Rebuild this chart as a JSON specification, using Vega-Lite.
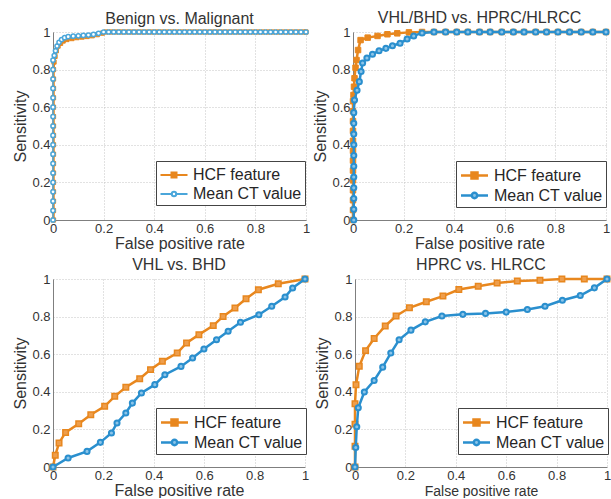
{
  "$schema": "https://vega.github.io/schema/vega-lite/v6.json",
  "padding": {"left": 12, "top": 10, "right": 0, "bottom": 0},
  "background": "white",
  "config": {
    "view": {"stroke": null},
    "font": "Liberation Sans",
    "title": {"font": "Liberation Sans", "fontSize": 16, "fontWeight": "normal", "color": "#333", "offset": -1},
    "axis": {"labelFont": "Liberation Sans", "titleFont": "Liberation Sans", "labelFontSize": 13, "titleFontSize": 16, "titleFontWeight": "normal", "labelColor": "#333", "titleColor": "#333", "gridColor": "#c4c4c4", "gridDash": [1, 2], "domainColor": "#7f7f7f", "ticks": false, "labelFlush": false, "labelPadding": 3, "titlePadding": 3},
    "axisX": {"labelPadding": 2, "titlePadding": 0},
    "legend": {"labelFont": "Liberation Sans", "labelFontSize": 16, "labelColor": "#262626", "padding": 3, "rowPadding": 0, "strokeColor": "#444", "fillColor": "#ffffff", "symbolSize": 400, "symbolOffset": 4, "labelOffset": 8, "orient": "none", "legendX": 103, "legendY": 129, "direction": "vertical"}
  },
  "resolve": {"scale": {"color": "independent"}, "legend": {"color": "independent"}},
  "spacing": 6,
  "vconcat": [
    {
      "spacing": 0,
      "resolve": {"scale": {"color": "independent"}, "legend": {"color": "independent"}},
      "hconcat": [
        {
          "width": 253, "height": 188,
          "title": "Benign vs. Malignant",
          "data": {"values": [
            {"s":"HCF feature","x":0.002,"y":0},{"s":"HCF feature","x":0.002,"y":0.05},{"s":"HCF feature","x":0.002,"y":0.1},{"s":"HCF feature","x":0.002,"y":0.15},{"s":"HCF feature","x":0.002,"y":0.2},{"s":"HCF feature","x":0.002,"y":0.25},{"s":"HCF feature","x":0.002,"y":0.3},{"s":"HCF feature","x":0.002,"y":0.35},{"s":"HCF feature","x":0.002,"y":0.4},{"s":"HCF feature","x":0.002,"y":0.45},{"s":"HCF feature","x":0.002,"y":0.5},{"s":"HCF feature","x":0.002,"y":0.55},{"s":"HCF feature","x":0.002,"y":0.6},{"s":"HCF feature","x":0.002,"y":0.65},{"s":"HCF feature","x":0.002,"y":0.7},{"s":"HCF feature","x":0.002,"y":0.75},{"s":"HCF feature","x":0.002,"y":0.8},
            {"s":"HCF feature","x":0.004,"y":0.84},{"s":"HCF feature","x":0.008,"y":0.87},{"s":"HCF feature","x":0.013,"y":0.9},{"s":"HCF feature","x":0.02,"y":0.925},{"s":"HCF feature","x":0.03,"y":0.94},{"s":"HCF feature","x":0.04,"y":0.952},{"s":"HCF feature","x":0.055,"y":0.96},{"s":"HCF feature","x":0.075,"y":0.965},{"s":"HCF feature","x":0.095,"y":0.97},{"s":"HCF feature","x":0.115,"y":0.973},{"s":"HCF feature","x":0.135,"y":0.976},{"s":"HCF feature","x":0.155,"y":0.98},{"s":"HCF feature","x":0.175,"y":0.986},{"s":"HCF feature","x":0.195,"y":0.994},{"s":"HCF feature","x":0.21,"y":1},
            {"s":"HCF feature","x":0.23,"y":1},{"s":"HCF feature","x":0.25,"y":1},{"s":"HCF feature","x":0.27,"y":1},{"s":"HCF feature","x":0.29,"y":1},{"s":"HCF feature","x":0.31,"y":1},{"s":"HCF feature","x":0.33,"y":1},{"s":"HCF feature","x":0.35,"y":1},{"s":"HCF feature","x":0.37,"y":1},{"s":"HCF feature","x":0.39,"y":1},{"s":"HCF feature","x":0.41,"y":1},{"s":"HCF feature","x":0.43,"y":1},{"s":"HCF feature","x":0.45,"y":1},{"s":"HCF feature","x":0.47,"y":1},{"s":"HCF feature","x":0.49,"y":1},{"s":"HCF feature","x":0.51,"y":1},{"s":"HCF feature","x":0.53,"y":1},{"s":"HCF feature","x":0.55,"y":1},{"s":"HCF feature","x":0.57,"y":1},{"s":"HCF feature","x":0.59,"y":1},{"s":"HCF feature","x":0.61,"y":1},{"s":"HCF feature","x":0.63,"y":1},{"s":"HCF feature","x":0.65,"y":1},{"s":"HCF feature","x":0.67,"y":1},{"s":"HCF feature","x":0.69,"y":1},{"s":"HCF feature","x":0.71,"y":1},{"s":"HCF feature","x":0.73,"y":1},{"s":"HCF feature","x":0.75,"y":1},{"s":"HCF feature","x":0.77,"y":1},{"s":"HCF feature","x":0.79,"y":1},{"s":"HCF feature","x":0.81,"y":1},{"s":"HCF feature","x":0.83,"y":1},{"s":"HCF feature","x":0.85,"y":1},{"s":"HCF feature","x":0.87,"y":1},{"s":"HCF feature","x":0.89,"y":1},{"s":"HCF feature","x":0.91,"y":1},{"s":"HCF feature","x":0.93,"y":1},{"s":"HCF feature","x":0.95,"y":1},{"s":"HCF feature","x":0.97,"y":1},{"s":"HCF feature","x":0.99,"y":1},{"s":"HCF feature","x":1,"y":1},
            {"s":"Mean CT value","x":0,"y":0},{"s":"Mean CT value","x":0,"y":0.05},{"s":"Mean CT value","x":0,"y":0.1},{"s":"Mean CT value","x":0,"y":0.15},{"s":"Mean CT value","x":0,"y":0.2},{"s":"Mean CT value","x":0,"y":0.25},{"s":"Mean CT value","x":0,"y":0.3},{"s":"Mean CT value","x":0,"y":0.35},{"s":"Mean CT value","x":0,"y":0.4},{"s":"Mean CT value","x":0,"y":0.45},{"s":"Mean CT value","x":0,"y":0.5},{"s":"Mean CT value","x":0,"y":0.55},{"s":"Mean CT value","x":0,"y":0.6},{"s":"Mean CT value","x":0,"y":0.65},{"s":"Mean CT value","x":0,"y":0.7},{"s":"Mean CT value","x":0,"y":0.75},{"s":"Mean CT value","x":0,"y":0.8},{"s":"Mean CT value","x":0,"y":0.85},
            {"s":"Mean CT value","x":0.005,"y":0.875},{"s":"Mean CT value","x":0.01,"y":0.9},{"s":"Mean CT value","x":0.016,"y":0.925},{"s":"Mean CT value","x":0.024,"y":0.945},{"s":"Mean CT value","x":0.034,"y":0.96},{"s":"Mean CT value","x":0.046,"y":0.97},{"s":"Mean CT value","x":0.06,"y":0.975},{"s":"Mean CT value","x":0.08,"y":0.978},{"s":"Mean CT value","x":0.1,"y":0.98},{"s":"Mean CT value","x":0.12,"y":0.982},{"s":"Mean CT value","x":0.14,"y":0.984},{"s":"Mean CT value","x":0.16,"y":0.987},{"s":"Mean CT value","x":0.18,"y":0.993},{"s":"Mean CT value","x":0.2,"y":1},
            {"s":"Mean CT value","x":0.22,"y":1},{"s":"Mean CT value","x":0.24,"y":1},{"s":"Mean CT value","x":0.26,"y":1},{"s":"Mean CT value","x":0.28,"y":1},{"s":"Mean CT value","x":0.3,"y":1},{"s":"Mean CT value","x":0.32,"y":1},{"s":"Mean CT value","x":0.34,"y":1},{"s":"Mean CT value","x":0.36,"y":1},{"s":"Mean CT value","x":0.38,"y":1},{"s":"Mean CT value","x":0.4,"y":1},{"s":"Mean CT value","x":0.42,"y":1},{"s":"Mean CT value","x":0.44,"y":1},{"s":"Mean CT value","x":0.46,"y":1},{"s":"Mean CT value","x":0.48,"y":1},{"s":"Mean CT value","x":0.5,"y":1},{"s":"Mean CT value","x":0.52,"y":1},{"s":"Mean CT value","x":0.54,"y":1},{"s":"Mean CT value","x":0.56,"y":1},{"s":"Mean CT value","x":0.58,"y":1},{"s":"Mean CT value","x":0.6,"y":1},{"s":"Mean CT value","x":0.62,"y":1},{"s":"Mean CT value","x":0.64,"y":1},{"s":"Mean CT value","x":0.66,"y":1},{"s":"Mean CT value","x":0.68,"y":1},{"s":"Mean CT value","x":0.7,"y":1},{"s":"Mean CT value","x":0.72,"y":1},{"s":"Mean CT value","x":0.74,"y":1},{"s":"Mean CT value","x":0.76,"y":1},{"s":"Mean CT value","x":0.78,"y":1},{"s":"Mean CT value","x":0.8,"y":1},{"s":"Mean CT value","x":0.82,"y":1},{"s":"Mean CT value","x":0.84,"y":1},{"s":"Mean CT value","x":0.86,"y":1},{"s":"Mean CT value","x":0.88,"y":1},{"s":"Mean CT value","x":0.9,"y":1},{"s":"Mean CT value","x":0.92,"y":1},{"s":"Mean CT value","x":0.94,"y":1},{"s":"Mean CT value","x":0.96,"y":1},{"s":"Mean CT value","x":0.98,"y":1},{"s":"Mean CT value","x":1,"y":1}
          ]},
          "encoding": {
            "x": {"field": "x", "type": "quantitative", "scale": {"domain": [0, 1]}, "axis": {"title": "False positive rate", "values": [0, 0.2, 0.4, 0.6, 0.8, 1], "format": "~g"}},
            "y": {"field": "y", "type": "quantitative", "scale": {"domain": [0, 1]}, "axis": {"title": "Sensitivity", "values": [0, 0.2, 0.4, 0.6, 0.8, 1], "format": "~g"}}
          },
          "layer": [
            {"transform": [{"filter": "datum.s === 'HCF feature'"}], "mark": {"type": "line", "strokeWidth": 2.5},
             "encoding": {"color": {"field": "s", "type": "nominal", "scale": {"domain": ["HCF feature", "Mean CT value"], "range": ["#E8871E", "#4AA6DA"]},
               "legend": {"title": null, "encode": {"symbols": {"update": {
                 "shape": {"signal": "datum.value === 'HCF feature' ? 'M-1.35,0H1.35M-0.25,-0.25H0.25V0.25H-0.25Z' : 'M-1.35,0H-0.22M0.22,0H1.35M0.22,0A0.22,0.22,0,1,1,-0.22,0A0.22,0.22,0,1,1,0.22,0Z'"},
                 "fill": {"signal": "datum.value === 'HCF feature' ? '#E8871E' : '#ffffff'"},
                 "stroke": {"signal": "datum.value === 'HCF feature' ? '#E8871E' : '#4AA6DA'"},
                 "strokeWidth": {"value": 2}, "opacity": {"value": 1}}}}}}}},
            {"transform": [{"filter": "datum.s === 'HCF feature'"}], "mark": {"type": "point", "shape": "square", "filled": true, "fill": "#E8871E", "stroke": "#E8871E", "strokeWidth": 1, "size": 18, "opacity": 1}},
            {"transform": [{"filter": "datum.s === 'Mean CT value'"}], "mark": {"type": "line", "strokeWidth": 1.5}, "encoding": {"color": {"field": "s", "type": "nominal"}}},
            {"transform": [{"filter": "datum.s === 'Mean CT value'"}], "mark": {"type": "point", "shape": "circle", "filled": true, "fill": "#ffffff", "stroke": "#4AA6DA", "strokeWidth": 1.5, "size": 18, "opacity": 1}}
          ]
        },
        {
          "width": 253, "height": 188,
          "title": "VHL/BHD vs. HPRC/HLRCC",
          "data": {"values": [
            {"s":"HCF feature","x":0,"y":0},{"s":"HCF feature","x":0,"y":0.053},{"s":"HCF feature","x":0,"y":0.105},{"s":"HCF feature","x":0,"y":0.158},{"s":"HCF feature","x":0,"y":0.211},{"s":"HCF feature","x":0,"y":0.263},{"s":"HCF feature","x":0,"y":0.316},{"s":"HCF feature","x":0,"y":0.368},{"s":"HCF feature","x":0,"y":0.421},{"s":"HCF feature","x":0,"y":0.474},{"s":"HCF feature","x":0,"y":0.526},{"s":"HCF feature","x":0,"y":0.579},{"s":"HCF feature","x":0,"y":0.632},
            {"s":"HCF feature","x":0.002,"y":0.665},{"s":"HCF feature","x":0.004,"y":0.709},{"s":"HCF feature","x":0.006,"y":0.754},{"s":"HCF feature","x":0.01,"y":0.81},{"s":"HCF feature","x":0.014,"y":0.851},{"s":"HCF feature","x":0.02,"y":0.904},{"s":"HCF feature","x":0.03,"y":0.957},{"s":"HCF feature","x":0.058,"y":0.97},{"s":"HCF feature","x":0.097,"y":0.979},{"s":"HCF feature","x":0.136,"y":0.988},{"s":"HCF feature","x":0.175,"y":0.993},{"s":"HCF feature","x":0.221,"y":0.998},{"s":"HCF feature","x":0.273,"y":1},
            {"s":"HCF feature","x":0.32,"y":1},{"s":"HCF feature","x":0.366,"y":1},{"s":"HCF feature","x":0.41,"y":1},{"s":"HCF feature","x":0.454,"y":1},{"s":"HCF feature","x":0.5,"y":1},{"s":"HCF feature","x":0.542,"y":1},{"s":"HCF feature","x":0.588,"y":1},{"s":"HCF feature","x":0.634,"y":1},{"s":"HCF feature","x":0.676,"y":1},{"s":"HCF feature","x":0.722,"y":1},{"s":"HCF feature","x":0.765,"y":1},{"s":"HCF feature","x":0.81,"y":1},{"s":"HCF feature","x":0.856,"y":1},{"s":"HCF feature","x":0.902,"y":1},{"s":"HCF feature","x":0.948,"y":1},{"s":"HCF feature","x":1,"y":1},
            {"s":"Mean CT value","x":0.003,"y":0},{"s":"Mean CT value","x":0.003,"y":0.057},{"s":"Mean CT value","x":0.003,"y":0.114},{"s":"Mean CT value","x":0.003,"y":0.171},{"s":"Mean CT value","x":0.003,"y":0.229},{"s":"Mean CT value","x":0.003,"y":0.286},{"s":"Mean CT value","x":0.003,"y":0.343},{"s":"Mean CT value","x":0.003,"y":0.4},{"s":"Mean CT value","x":0.003,"y":0.457},{"s":"Mean CT value","x":0.003,"y":0.514},{"s":"Mean CT value","x":0.003,"y":0.571},{"s":"Mean CT value","x":0.006,"y":0.638},
            {"s":"Mean CT value","x":0.016,"y":0.69},{"s":"Mean CT value","x":0.025,"y":0.736},{"s":"Mean CT value","x":0.032,"y":0.79},{"s":"Mean CT value","x":0.038,"y":0.835},{"s":"Mean CT value","x":0.055,"y":0.862},{"s":"Mean CT value","x":0.077,"y":0.882},{"s":"Mean CT value","x":0.103,"y":0.9},{"s":"Mean CT value","x":0.13,"y":0.913},{"s":"Mean CT value","x":0.156,"y":0.927},{"s":"Mean CT value","x":0.186,"y":0.94},{"s":"Mean CT value","x":0.214,"y":0.963},{"s":"Mean CT value","x":0.24,"y":0.979},{"s":"Mean CT value","x":0.273,"y":0.995},
            {"s":"Mean CT value","x":0.32,"y":1},{"s":"Mean CT value","x":0.366,"y":1},{"s":"Mean CT value","x":0.41,"y":1},{"s":"Mean CT value","x":0.454,"y":1},{"s":"Mean CT value","x":0.5,"y":1},{"s":"Mean CT value","x":0.542,"y":1},{"s":"Mean CT value","x":0.588,"y":1},{"s":"Mean CT value","x":0.634,"y":1},{"s":"Mean CT value","x":0.676,"y":1},{"s":"Mean CT value","x":0.722,"y":1},{"s":"Mean CT value","x":0.765,"y":1},{"s":"Mean CT value","x":0.81,"y":1},{"s":"Mean CT value","x":0.856,"y":1},{"s":"Mean CT value","x":0.902,"y":1},{"s":"Mean CT value","x":0.948,"y":1},{"s":"Mean CT value","x":1,"y":1}
          ]},
          "encoding": {
            "x": {"field": "x", "type": "quantitative", "scale": {"domain": [0, 1]}, "axis": {"title": "False positive rate", "values": [0, 0.2, 0.4, 0.6, 0.8, 1], "format": "~g"}},
            "y": {"field": "y", "type": "quantitative", "scale": {"domain": [0, 1]}, "axis": {"title": "Sensitivity", "values": [0, 0.2, 0.4, 0.6, 0.8, 1], "format": "~g"}}
          },
          "layer": [
            {"transform": [{"filter": "datum.s === 'HCF feature'"}], "mark": {"type": "line", "strokeWidth": 2.5},
             "encoding": {"color": {"field": "s", "type": "nominal", "scale": {"domain": ["HCF feature", "Mean CT value"], "range": ["#E8871E", "#2A8FCE"]},
               "legend": {"title": null, "encode": {"symbols": {"update": {
                 "shape": {"signal": "datum.value === 'HCF feature' ? 'M-1.35,0H1.35M-0.3,-0.3H0.3V0.3H-0.3Z' : 'M-1.35,0H-0.27M0.27,0H1.35M0.27,0A0.27,0.27,0,1,1,-0.27,0A0.27,0.27,0,1,1,0.27,0Z'"},
                 "fill": {"signal": "datum.value === 'HCF feature' ? '#E8871E' : '#8CC4E8'"},
                 "stroke": {"signal": "datum.value === 'HCF feature' ? '#E8871E' : '#2A8FCE'"},
                 "strokeWidth": {"value": 2.5}, "opacity": {"value": 1}}}}}}}},
            {"transform": [{"filter": "datum.s === 'HCF feature'"}], "mark": {"type": "point", "shape": "square", "filled": true, "fill": "#E8871E", "stroke": "#E8871E", "strokeWidth": 1, "size": 30, "opacity": 1}},
            {"transform": [{"filter": "datum.s === 'Mean CT value'"}], "mark": {"type": "line", "strokeWidth": 2.5}, "encoding": {"color": {"field": "s", "type": "nominal"}}},
            {"transform": [{"filter": "datum.s === 'Mean CT value'"}], "mark": {"type": "point", "shape": "circle", "filled": true, "fill": "#8CC4E8", "stroke": "#2A8FCE", "strokeWidth": 2, "size": 26, "opacity": 1}}
          ]
        }
      ]
    },
    {
      "spacing": 2,
      "resolve": {"scale": {"color": "independent"}, "legend": {"color": "independent"}},
      "hconcat": [
        {
          "width": 252, "height": 188,
          "title": "VHL vs. BHD",
          "data": {"values": [
            {"s":"HCF feature","x":0,"y":0},{"s":"HCF feature","x":0.009,"y":0.062},{"s":"HCF feature","x":0.024,"y":0.128},{"s":"HCF feature","x":0.05,"y":0.184},{"s":"HCF feature","x":0.102,"y":0.23},{"s":"HCF feature","x":0.15,"y":0.278},{"s":"HCF feature","x":0.205,"y":0.323},{"s":"HCF feature","x":0.245,"y":0.376},{"s":"HCF feature","x":0.289,"y":0.424},{"s":"HCF feature","x":0.344,"y":0.47},{"s":"HCF feature","x":0.387,"y":0.518},{"s":"HCF feature","x":0.434,"y":0.562},{"s":"HCF feature","x":0.493,"y":0.606},{"s":"HCF feature","x":0.53,"y":0.66},{"s":"HCF feature","x":0.579,"y":0.704},{"s":"HCF feature","x":0.636,"y":0.752},{"s":"HCF feature","x":0.675,"y":0.801},{"s":"HCF feature","x":0.722,"y":0.846},{"s":"HCF feature","x":0.766,"y":0.895},{"s":"HCF feature","x":0.815,"y":0.943},{"s":"HCF feature","x":0.894,"y":0.975},{"s":"HCF feature","x":1,"y":1},
            {"s":"Mean CT value","x":0,"y":0},{"s":"Mean CT value","x":0.06,"y":0.048},{"s":"Mean CT value","x":0.135,"y":0.083},{"s":"Mean CT value","x":0.188,"y":0.131},{"s":"Mean CT value","x":0.232,"y":0.181},{"s":"Mean CT value","x":0.254,"y":0.234},{"s":"Mean CT value","x":0.289,"y":0.287},{"s":"Mean CT value","x":0.315,"y":0.34},{"s":"Mean CT value","x":0.351,"y":0.394},{"s":"Mean CT value","x":0.404,"y":0.438},{"s":"Mean CT value","x":0.444,"y":0.491},{"s":"Mean CT value","x":0.508,"y":0.535},{"s":"Mean CT value","x":0.554,"y":0.58},{"s":"Mean CT value","x":0.599,"y":0.628},{"s":"Mean CT value","x":0.649,"y":0.677},{"s":"Mean CT value","x":0.695,"y":0.722},{"s":"Mean CT value","x":0.744,"y":0.77},{"s":"Mean CT value","x":0.817,"y":0.81},{"s":"Mean CT value","x":0.868,"y":0.855},{"s":"Mean CT value","x":0.921,"y":0.904},{"s":"Mean CT value","x":0.951,"y":0.952},{"s":"Mean CT value","x":1,"y":1}
          ]},
          "encoding": {
            "x": {"field": "x", "type": "quantitative", "scale": {"domain": [0, 1]}, "axis": {"title": "False positive rate", "values": [0, 0.2, 0.4, 0.6, 0.8, 1], "format": "~g"}},
            "y": {"field": "y", "type": "quantitative", "scale": {"domain": [0, 1]}, "axis": {"title": "Sensitivity", "values": [0, 0.2, 0.4, 0.6, 0.8, 1], "format": "~g"}}
          },
          "layer": [
            {"transform": [{"filter": "datum.s === 'HCF feature'"}], "mark": {"type": "line", "strokeWidth": 2.5},
             "encoding": {"color": {"field": "s", "type": "nominal", "scale": {"domain": ["HCF feature", "Mean CT value"], "range": ["#E8871E", "#2A8FCE"]},
               "legend": {"title": null, "encode": {"symbols": {"update": {
                 "shape": {"signal": "datum.value === 'HCF feature' ? 'M-1.35,0H1.35M-0.3,-0.3H0.3V0.3H-0.3Z' : 'M-1.35,0H-0.27M0.27,0H1.35M0.27,0A0.27,0.27,0,1,1,-0.27,0A0.27,0.27,0,1,1,0.27,0Z'"},
                 "fill": {"signal": "datum.value === 'HCF feature' ? '#E8871E' : '#8CC4E8'"},
                 "stroke": {"signal": "datum.value === 'HCF feature' ? '#E8871E' : '#2A8FCE'"},
                 "strokeWidth": {"value": 2.5}, "opacity": {"value": 1}}}}}}}},
            {"transform": [{"filter": "datum.s === 'HCF feature'"}], "mark": {"type": "point", "shape": "square", "filled": true, "fill": "#EE9E4C", "stroke": "#E8871E", "strokeWidth": 1.5, "size": 30, "opacity": 1}},
            {"transform": [{"filter": "datum.s === 'Mean CT value'"}], "mark": {"type": "line", "strokeWidth": 2.5}, "encoding": {"color": {"field": "s", "type": "nominal"}}},
            {"transform": [{"filter": "datum.s === 'Mean CT value'"}], "mark": {"type": "point", "shape": "circle", "filled": true, "fill": "#8CC4E8", "stroke": "#2A8FCE", "strokeWidth": 2, "size": 26, "opacity": 1}}
          ]
        },
        {
          "width": 252, "height": 188,
          "title": "HPRC vs. HLRCC",
          "data": {"values": [
            {"s":"HCF feature","x":0,"y":0},{"s":"HCF feature","x":0,"y":0.11},{"s":"HCF feature","x":0,"y":0.228},{"s":"HCF feature","x":0,"y":0.337},{"s":"HCF feature","x":0.004,"y":0.437},{"s":"HCF feature","x":0.017,"y":0.536},{"s":"HCF feature","x":0.042,"y":0.619},{"s":"HCF feature","x":0.076,"y":0.684},{"s":"HCF feature","x":0.12,"y":0.75},{"s":"HCF feature","x":0.163,"y":0.803},{"s":"HCF feature","x":0.216,"y":0.847},{"s":"HCF feature","x":0.283,"y":0.879},{"s":"HCF feature","x":0.349,"y":0.909},{"s":"HCF feature","x":0.412,"y":0.944},{"s":"HCF feature","x":0.489,"y":0.961},{"s":"HCF feature","x":0.564,"y":0.979},{"s":"HCF feature","x":0.644,"y":0.989},{"s":"HCF feature","x":0.734,"y":0.993},{"s":"HCF feature","x":0.821,"y":1},{"s":"HCF feature","x":0.91,"y":1},{"s":"HCF feature","x":1,"y":1},
            {"s":"Mean CT value","x":0,"y":0},{"s":"Mean CT value","x":0.003,"y":0.104},{"s":"Mean CT value","x":0.007,"y":0.214},{"s":"Mean CT value","x":0.013,"y":0.315},{"s":"Mean CT value","x":0.037,"y":0.399},{"s":"Mean CT value","x":0.076,"y":0.46},{"s":"Mean CT value","x":0.11,"y":0.531},{"s":"Mean CT value","x":0.142,"y":0.606},{"s":"Mean CT value","x":0.175,"y":0.677},{"s":"Mean CT value","x":0.222,"y":0.728},{"s":"Mean CT value","x":0.279,"y":0.772},{"s":"Mean CT value","x":0.345,"y":0.803},{"s":"Mean CT value","x":0.428,"y":0.812},{"s":"Mean CT value","x":0.518,"y":0.817},{"s":"Mean CT value","x":0.6,"y":0.824},{"s":"Mean CT value","x":0.684,"y":0.838},{"s":"Mean CT value","x":0.754,"y":0.855},{"s":"Mean CT value","x":0.823,"y":0.887},{"s":"Mean CT value","x":0.894,"y":0.912},{"s":"Mean CT value","x":0.95,"y":0.953},{"s":"Mean CT value","x":1,"y":1}
          ]},
          "encoding": {
            "x": {"field": "x", "type": "quantitative", "scale": {"domain": [0, 1]}, "axis": {"title": "False positive rate", "titleFontSize": 14, "titlePadding": 2, "values": [0, 0.2, 0.4, 0.6, 0.8, 1], "format": "~g"}},
            "y": {"field": "y", "type": "quantitative", "scale": {"domain": [0, 1]}, "axis": {"title": "Sensitivity", "values": [0, 0.2, 0.4, 0.6, 0.8, 1], "format": "~g"}}
          },
          "layer": [
            {"transform": [{"filter": "datum.s === 'HCF feature'"}], "mark": {"type": "line", "strokeWidth": 2.5},
             "encoding": {"color": {"field": "s", "type": "nominal", "scale": {"domain": ["HCF feature", "Mean CT value"], "range": ["#E8871E", "#2A8FCE"]},
               "legend": {"title": null, "encode": {"symbols": {"update": {
                 "shape": {"signal": "datum.value === 'HCF feature' ? 'M-1.35,0H1.35M-0.3,-0.3H0.3V0.3H-0.3Z' : 'M-1.35,0H-0.27M0.27,0H1.35M0.27,0A0.27,0.27,0,1,1,-0.27,0A0.27,0.27,0,1,1,0.27,0Z'"},
                 "fill": {"signal": "datum.value === 'HCF feature' ? '#E8871E' : '#8CC4E8'"},
                 "stroke": {"signal": "datum.value === 'HCF feature' ? '#E8871E' : '#2A8FCE'"},
                 "strokeWidth": {"value": 2.5}, "opacity": {"value": 1}}}}}}}},
            {"transform": [{"filter": "datum.s === 'HCF feature'"}], "mark": {"type": "point", "shape": "square", "filled": true, "fill": "#EE9E4C", "stroke": "#E8871E", "strokeWidth": 1.5, "size": 30, "opacity": 1}},
            {"transform": [{"filter": "datum.s === 'Mean CT value'"}], "mark": {"type": "line", "strokeWidth": 2.5}, "encoding": {"color": {"field": "s", "type": "nominal"}}},
            {"transform": [{"filter": "datum.s === 'Mean CT value'"}], "mark": {"type": "point", "shape": "circle", "filled": true, "fill": "#8CC4E8", "stroke": "#2A8FCE", "strokeWidth": 2, "size": 26, "opacity": 1}}
          ]
        }
      ]
    }
  ]
}
